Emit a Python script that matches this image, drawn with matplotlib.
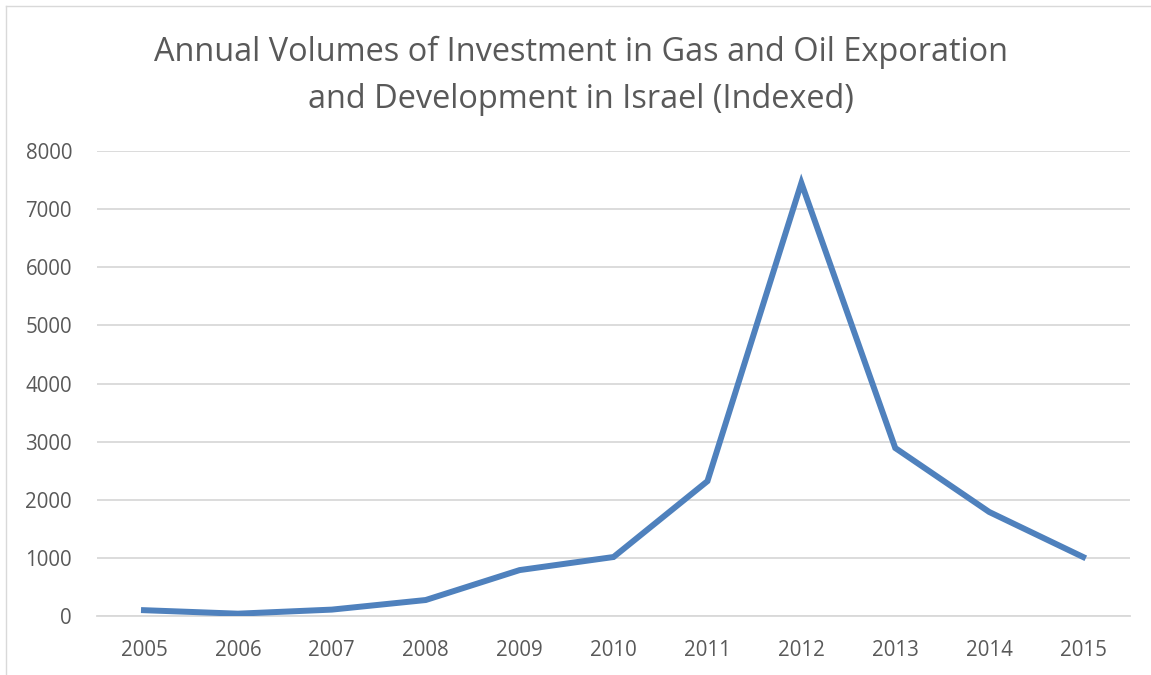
import matplotlib
matplotlib.use("Agg")
import matplotlib.pyplot as plt
from matplotlib.lines import Line2D

years = ["2005", "2006", "2007", "2008", "2009", "2010", "2011", "2012", "2013", "2014", "2015"]
investment = [100, 40, 110, 275, 790, 1015, 2320, 7450, 2890, 1790, 1015]

plt.rcParams['font.family'] = ['Open Sans', 'DejaVu Sans']
gray = '#595959'

fig = plt.figure(figsize=(11.51, 6.75), dpi=100)
ax = fig.add_axes([0.0843, 0.0874, 0.8975, 0.6889])

x = list(range(len(years)))
ax.plot(x, investment, color='#4F81BD', linewidth=4.3, solid_joinstyle='miter', zorder=3)

ax.set_xlim(-0.5, len(years) - 0.5)
ax.set_ylim(0, 8000)
ax.set_yticks(range(0, 8001, 1000))
ax.set_xticks(x)
ax.set_xticklabels(years)
ax.grid(axis='y', color='#D9D9D9', linewidth=1.3)
ax.set_axisbelow(True)
for s in ['top', 'right', 'left']:
    ax.spines[s].set_visible(False)
ax.spines['bottom'].set_color('#D9D9D9')
ax.spines['bottom'].set_linewidth(1.3)
ax.tick_params(axis='both', length=0, labelsize=14.8, colors=gray)
ax.tick_params(axis='y', pad=18)
ax.tick_params(axis='x', pad=17)

fig.text(0.505, 0.888, "Annual Volumes of Investment in Gas and Oil Exporation\nand Development in Israel (Indexed)",
         ha='center', va='center', fontsize=23.4, color=gray, linespacing=1.56)

# chart frame (only top and left edges are inside the image)
fig.lines.append(Line2D([0.0052, 1.0], [0.991, 0.991], transform=fig.transFigure,
                        color='#D9D9D9', linewidth=1))
fig.lines.append(Line2D([0.0052, 0.0052], [0.0, 0.991], transform=fig.transFigure,
                        color='#D9D9D9', linewidth=1))

fig.savefig("out.png", dpi=100)
